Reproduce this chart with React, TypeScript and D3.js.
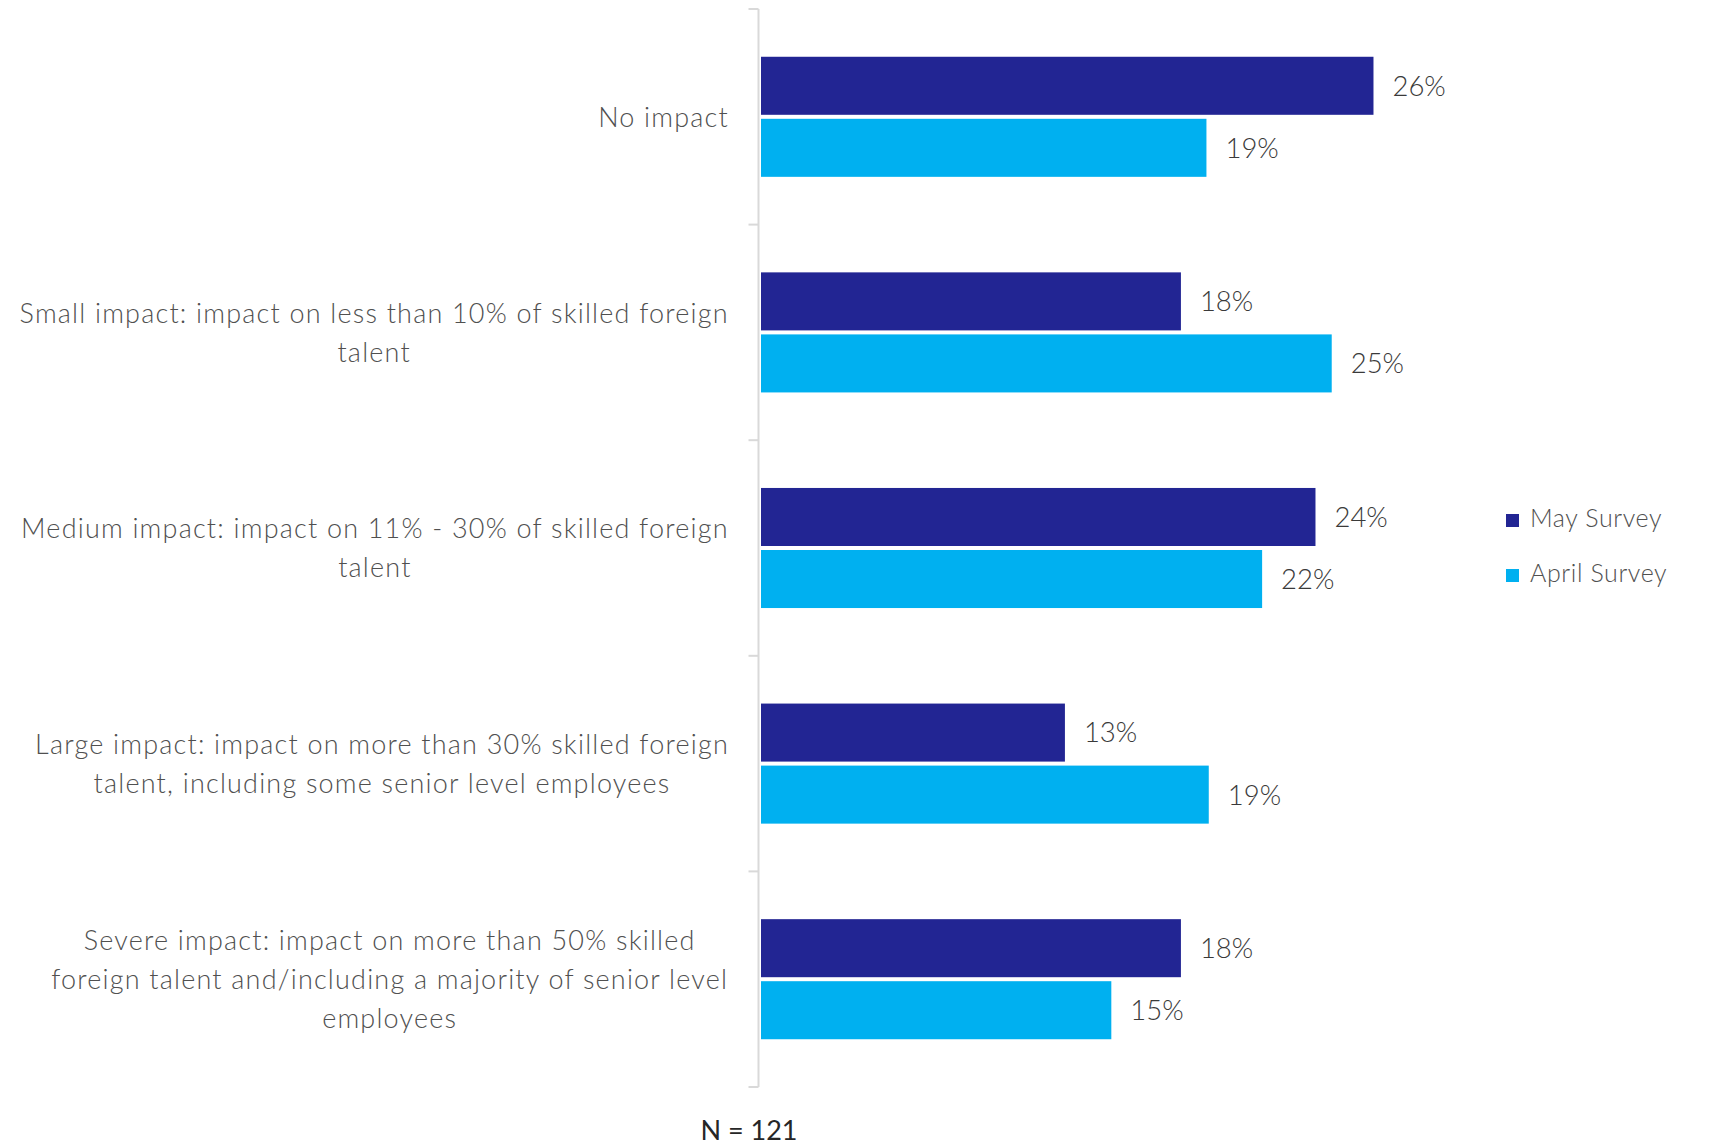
import React from "react";
import * as d3 from "d3";

const categories = ["No impact", "Small impact", "Medium impact", "Large impact", "Severe impact"];
const categoryLines: string[][] = [
  ["No impact"],
  ["Small impact: impact on less than 10% of skilled foreign", "talent"],
  ["Medium impact: impact on 11% - 30% of skilled foreign", "talent"],
  ["Large impact: impact on more than 30% skilled foreign", "talent, including some senior level employees"],
  ["Severe impact: impact on more than 50% skilled", "foreign talent and/including a majority of senior level", "employees"],
];
const seriesNames = ["May Survey", "April Survey"];
const maySurvey = [26.4, 18.1, 23.9, 13.1, 18.1];
const aprilSurvey = [19.2, 24.6, 21.6, 19.3, 15.1];
const seriesColors = ["#222593", "#00B0F0"];
const footnote = "N = 121";

const W = 1709;
const H = 1146;
const FONT = "Lato, 'Open Sans', sans-serif";
const CAT_FS = 27;
const CAT_LS = 1.2;
const VAL_FS = 27.5;
const LEG_FS = 25;

function measure(text: string, font: string, ls: number): number {
  if (typeof document === "undefined") return text.length * 12;
  const c = (measure as any)._c || ((measure as any)._c = document.createElement("canvas"));
  const ctx = c.getContext("2d");
  ctx.font = font;
  return ctx.measureText(text).width + ls * text.length;
}

export default function App() {
  const x = d3.scaleLinear().domain([0, 30]).range([761, 1457]);
  const y = d3.scaleBand<string>().domain(categories).range([9, 1087]);
  const sub = d3
    .scaleBand<string>()
    .domain(seriesNames)
    .range([0, y.bandwidth()])
    .paddingInner(0.0645)
    .paddingOuter(0.77);
  const seriesValues = [maySurvey, aprilSurvey];
  const axisX = 758.5;
  const labelRight = 729;
  const lineH = 39.2;
  const boundaries = categories.map((c) => y(c)!).concat([y.range()[1]]);

  return (
    <svg
      width={W}
      height={H}
      style={{ position: "absolute", left: 0, top: 0, background: "#fff" }}
      fontFamily={FONT}
    >
      <rect x={0} y={0} width={W} height={H} fill="#fff" />
      {/* axis */}
      <line x1={axisX} x2={axisX} y1={boundaries[0]} y2={boundaries[boundaries.length - 1]} stroke="#D9D9D9" strokeWidth={2} />
      {boundaries.map((b, i) => (
        <line key={"t" + i} x1={axisX - 10} x2={axisX} y1={b} y2={b} stroke="#D9D9D9" strokeWidth={2} />
      ))}
      {/* bars */}
      {categories.map((c, ci) =>
        seriesNames.map((s, si) => {
          const v = seriesValues[si][ci];
          const by = y(c)! + sub(s)!;
          return (
            <g key={c + s}>
              <rect x={x(0)} y={by} width={x(v) - x(0)} height={sub.bandwidth()} fill={seriesColors[si]} />
              <text
                x={x(v) + 19}
                y={by + sub.bandwidth() / 2}
                dy="0.36em"
                fontSize={VAL_FS}
                fontWeight={300}
                fill="#3a3a3a"
              >
                {Math.round(v) + "%"}
              </text>
            </g>
          );
        })
      )}
      {/* category labels */}
      {categories.map((c, ci) => {
        const lines = categoryLines[ci];
        const font = `300 ${CAT_FS}px Lato`;
        const widths = lines.map((l) => measure(l, font, CAT_LS));
        const blockW = Math.max(...widths);
        const cx = labelRight - blockW / 2;
        const cy = y(c)! + y.bandwidth() / 2;
        return (
          <text key={c} fontSize={CAT_FS} fontWeight={300} fill="#505050" textAnchor="middle" letterSpacing={CAT_LS}>
            {lines.map((l, li) => (
              <tspan key={li} x={cx} y={cy + (li - (lines.length - 1) / 2) * lineH} dy="0.36em">
                {l}
              </tspan>
            ))}
          </text>
        );
      })}
      {/* legend */}
      {seriesNames.map((s, si) => (
        <g key={s} transform={`translate(1506, ${514 + si * 55})`}>
          <rect x={0} y={0} width={13} height={13} fill={seriesColors[si]} />
          <text x={24} y={13} fontSize={LEG_FS} fontWeight={300} fill="#505050" letterSpacing={0.6}>
            {s}
          </text>
        </g>
      ))}
      {/* footnote */}
      <text x={749} y={1140} fontSize={27} fill="#262626" textAnchor="middle">
        {footnote}
      </text>
    </svg>
  );
}
